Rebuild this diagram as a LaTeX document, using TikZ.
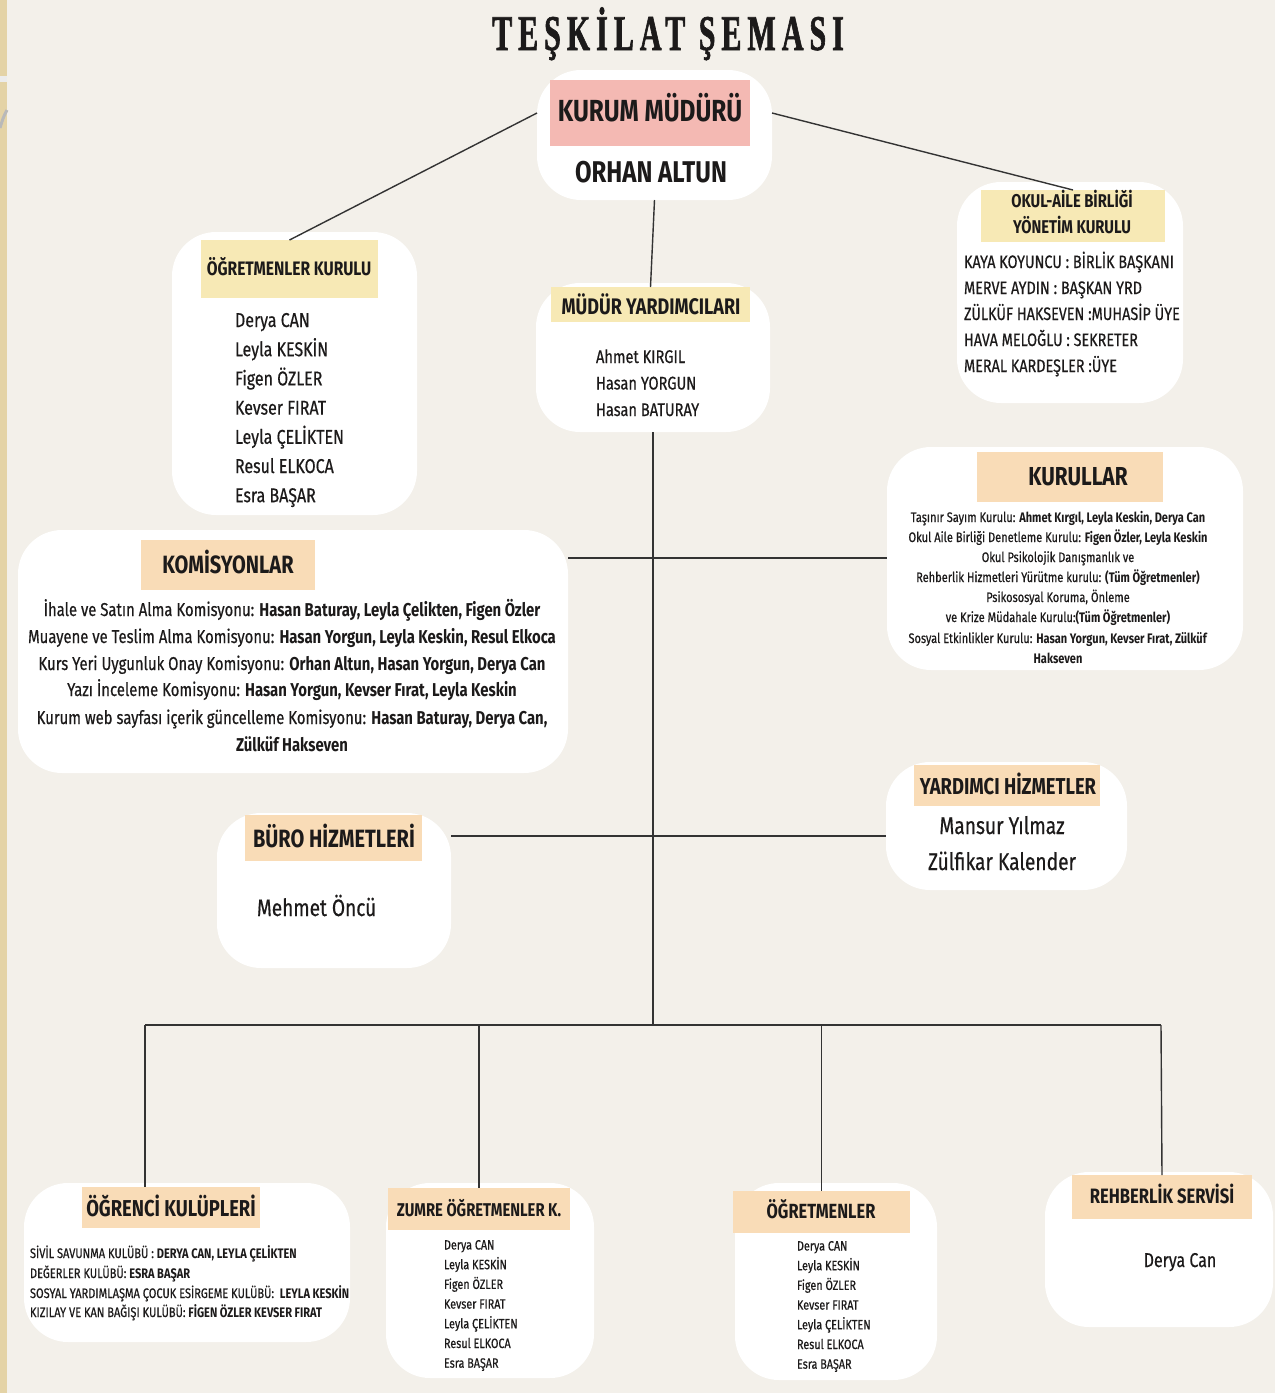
\documentclass[tikz,border=0pt]{standalone}
\usepackage{fontspec}
\setmainfont{Fira Sans}[FakeStretch=0.8, UprightFeatures={FakeBold=0.5}]
\newfontfamily\titlefont{Liberation Serif}[FakeStretch=0.6,LetterSpace=12,FakeBold=1.2]
\definecolor{bg}{HTML}{F3F0EA}
\definecolor{strip}{HTML}{E4D3A6}
\definecolor{hdyellow}{HTML}{F7E9B5}
\definecolor{hdpeach}{HTML}{F9DCB7}
\definecolor{hdpink}{HTML}{F4B9B3}
\definecolor{ink}{HTML}{1C1A1A}
\definecolor{lin}{HTML}{333333}
\newcommand\fsz[1]{\fontsize{#1}{#1}\selectfont}
\newcommand\bx[6]{\node[#2, minimum width={(#5-#3)*1pt}, minimum height={(#6-#4)*1pt}] (#1) at ({(#3+#5)/2},{(#4+#6)/2}) {};}
\tikzset{
  wb/.style={fill=white, rounded corners=44pt, inner sep=0pt, outer sep=0pt},
  hy/.style={fill=hdyellow, inner sep=0pt, outer sep=0pt},
  hp/.style={fill=hdpeach, inner sep=0pt, outer sep=0pt},
  hk/.style={fill=hdpink, inner sep=0pt, outer sep=0pt},
  tx/.style={inner sep=0pt, outer sep=0pt, anchor=base, text=ink},
  txl/.style={tx, anchor=base west},
  conn/.style={draw=lin, line width=1.4pt},
}
\begin{document}
\begin{tikzpicture}[x=1pt,y=-1pt]
\useasboundingbox (0,0) rectangle (1275,1393);
\fill[bg] (0,0) rectangle (1275,1393);
\fill[strip] (0,0) rectangle (7,1393);
\fill[white!85!gray] (0,76) rectangle (7,82);
\draw[gray!55, line width=3pt] (0,128) .. controls (3,118) .. (7,110);

% ---------- boxes ----------
\bx{km}{wb}{537}{70}{772}{200}
\bx{okk}{wb}{172}{232}{417}{515}
\bx{my}{wb}{536}{283}{770}{432}
\bx{oa}{wb}{957}{182}{1183}{403}
\bx{kur}{wb}{887}{447}{1243}{670}
\bx{kom}{wb}{18}{530}{568}{773}
\bx{buro}{wb}{217}{813}{451}{968}
\bx{yrd}{wb}{886}{762}{1127}{890}
\bx{ogc}{wb}{24}{1183}{350}{1342}
\bx{zum}{wb}{386}{1183}{594}{1378}
\bx{ogt}{wb}{735}{1183}{937}{1380}
\bx{reh}{wb}{1045}{1172}{1273}{1327}

% ---------- headers ----------
\bx{kmh}{hk}{550}{80}{750}{146}
\bx{okh}{hy}{201}{240}{378}{298}
\bx{myh}{hy}{551}{287}{750}{322}
\bx{oah}{hy}{981}{190}{1165}{242}
\bx{kurh}{hp}{977}{452}{1163}{502}
\bx{komh}{hp}{141}{540}{315}{590}
\bx{buroh}{hp}{245}{815}{422}{861}
\bx{yrdh}{hp}{914}{765}{1100}{806}
\bx{ogch}{hp}{82}{1187}{260}{1228}
\bx{zumh}{hp}{388}{1188}{570}{1230}
\bx{ogth}{hp}{733}{1191}{910}{1233}
\bx{rehh}{hp}{1072}{1175}{1252}{1219}

% ---------- connectors ----------
\coordinate (h1) at (653,558);
\coordinate (h2) at (653,836);
\coordinate (j) at (653,1025);
\coordinate (b1) at (145,1025);
\coordinate (b4) at (1161,1025);
\draw[conn] (km.west |- kmh) -- (okh.north);
\draw[conn] (km.east |- kmh) -- (oah.north);
\draw[conn] (km.south) -- (myh.north);
\draw[conn] (my.south) -- (j);
\draw[conn] (kom.east |- h1) -- (kur.west |- h1);
\draw[conn] (buro.east |- h2) -- (yrd.west |- h2);
\draw[conn] (b1) -- (b4);
\draw[conn] (b1) -- (b1 |- ogch.north);
\draw[conn] (zumh.north |- j) -- (zumh.north);
\draw[conn] (ogth.north |- j) -- (ogth.north);
\draw[conn] (b4) -- (rehh.north);

% ---------- title ----------
\node[tx, font=\titlefont\bfseries\fsz{50}] (title) at (668,50) {TEŞKİLAT ŞEMASI};

% ---------- kurum müdürü ----------
\node[tx, font=\bfseries\fsz{30.5}] (kmt) at (650,121) {KURUM MÜDÜRÜ};
\node[tx, font=\bfseries\fsz{30}] (kmn) at (651,182) {ORHAN ALTUN};

% ---------- öğretmenler kurulu ----------
\node[tx, font=\bfseries\fsz{19.5}] (okt) at (289,275) {ÖĞRETMENLER KURULU};
\foreach \t [count=\i from 0] in {Derya CAN, Leyla KESKİN, Figen ÖZLER, Kevser FIRAT, Leyla ÇELİKTEN, Resul ELKOCA, Esra BAŞAR}
  \node[txl, font=\fsz{20}] (okn\i) at (235,{327+29.2*\i}) {\t};

% ---------- müdür yardımcıları ----------
\node[tx, font=\bfseries\fsz{22.5}] (myt) at (651,314) {MÜDÜR YARDIMCILARI};
\foreach \t [count=\i from 0] in {Ahmet KIRGIL, Hasan YORGUN, Hasan BATURAY}
  \node[txl, font=\fsz{18.3}] (myn\i) at (596,{363+26.5*\i}) {\t};

% ---------- okul-aile ----------
\node[tx, font=\bfseries\fsz{18.5}] (oat1) at (1072,207) {OKUL-AİLE BİRLİĞİ};
\node[tx, font=\bfseries\fsz{18.5}] (oat2) at (1072,233) {YÖNETİM KURULU};
\foreach \t [count=\i from 0] in {KAYA KOYUNCU : BİRLİK BAŞKANI, MERVE AYDIN : BAŞKAN YRD, ZÜLKÜF HAKSEVEN :MUHASİP ÜYE, HAVA MELOĞLU : SEKRETER, MERAL KARDEŞLER :ÜYE}
  \node[txl, font=\fsz{18}] (oan\i) at (964,{268+26*\i}) {\t};

% ---------- kurullar ----------
\node[tx, font=\bfseries\fsz{26}] (kurt) at (1078,485) {KURULLAR};
\node[tx, font=\fsz{13.8}] (kur1) at (1058,522) {Taşınır Sayım Kurulu: \textbf{Ahmet Kırgıl, Leyla Keskin, Derya Can}};
\node[tx, font=\fsz{13.8}] (kur2) at (1058,542) {Okul Aile Birliği Denetleme Kurulu: \textbf{Figen Özler, Leyla Keskin}};
\node[tx, font=\fsz{13.8}] (kur3) at (1058,562) {Okul Psikolojik Danışmanlık ve};
\node[tx, font=\fsz{13.8}] (kur4) at (1058,582) {Rehberlik Hizmetleri Yürütme kurulu: \textbf{(Tüm Öğretmenler)}};
\node[tx, font=\fsz{13.8}] (kur5) at (1058,602) {Psikososyal Koruma, Önleme};
\node[tx, font=\fsz{13.8}] (kur6) at (1058,622) {ve Krize Müdahale Kurulu:\textbf{(Tüm Öğretmenler)}};
\node[tx, font=\fsz{13.8}] (kur7) at (1058,643) {Sosyal Etkinlikler Kurulu: \textbf{Hasan Yorgun, Kevser Fırat, Zülküf}};
\node[tx, font=\fsz{13.8}] (kur8) at (1058,663) {\textbf{Hakseven}};

% ---------- komisyonlar ----------
\node[tx, font=\bfseries\fsz{25}] (komt) at (228,573) {KOMİSYONLAR};
\node[tx, font=\fsz{18.6}] (kom1) at (292,616) {İhale ve Satın Alma Komisyonu: \textbf{Hasan Baturay, Leyla Çelikten, Figen Özler}};
\node[tx, font=\fsz{18.6}] (kom2) at (292,643) {Muayene ve Teslim Alma Komisyonu: \textbf{Hasan Yorgun, Leyla Keskin, Resul Elkoca}};
\node[tx, font=\fsz{18.6}] (kom3) at (292,670) {Kurs Yeri Uygunluk Onay Komisyonu: \textbf{Orhan Altun, Hasan Yorgun, Derya Can}};
\node[tx, font=\fsz{18.6}] (kom4) at (292,696) {Yazı İnceleme Komisyonu: \textbf{Hasan Yorgun, Kevser Fırat, Leyla Keskin}};
\node[tx, font=\fsz{18.6}] (kom5) at (292,724) {Kurum web sayfası içerik güncelleme Komisyonu: \textbf{Hasan Baturay, Derya Can,}};
\node[tx, font=\fsz{18.6}] (kom6) at (292,751) {\textbf{Zülküf Hakseven}};

% ---------- büro / yardımcı ----------
\node[tx, font=\bfseries\fsz{25}] (burot) at (334,847) {BÜRO HİZMETLERİ};
\node[txl, font=\fsz{23.8}] (buron) at (257,916) {Mehmet Öncü};
\node[tx, font=\bfseries\fsz{23}] (yrdt) at (1008,794) {YARDIMCI HİZMETLER};
\node[tx, font=\fsz{24}] (yrdn1) at (1002,834) {Mansur Yılmaz};
\node[tx, font=\fsz{24}] (yrdn2) at (1002,870) {Zülfikar Kalender};

% ---------- öğrenci kulüpleri ----------
\node[tx, font=\bfseries\fsz{23}] (ogct) at (171,1216) {ÖĞRENCİ KULÜPLERİ};
\node[txl, font=\fsz{13.8}] (ogc1) at (30,1258) {SİVİL SAVUNMA KULÜBÜ : \textbf{DERYA CAN, LEYLA ÇELİKTEN}};
\node[txl, font=\fsz{13.8}] (ogc2) at (30,1278) {DEĞERLER KULÜBÜ: \textbf{ESRA BAŞAR}};
\node[txl, font=\fsz{13.8}] (ogc3) at (30,1298) {SOSYAL YARDIMLAŞMA ÇOCUK ESİRGEME KULÜBÜ:\ \ \textbf{LEYLA KESKİN}};
\node[txl, font=\fsz{13.8}] (ogc4) at (30,1317) {KIZILAY VE KAN BAĞIŞI KULÜBÜ: \textbf{FİGEN ÖZLER KEVSER FIRAT}};

% ---------- zümre / öğretmenler ----------
\node[tx, font=\bfseries\fsz{18.5}] (zumt) at (479,1216) {ZUMRE ÖĞRETMENLER K.};
\foreach \t [count=\i from 0] in {Derya CAN, Leyla KESKİN, Figen ÖZLER, Kevser FIRAT, Leyla ÇELİKTEN, Resul ELKOCA, Esra BAŞAR}
  \node[txl, font=\fsz{13.5}] (zumn\i) at (444,{1249.5+19.7*\i}) {\t};
\node[tx, font=\bfseries\fsz{20.5}] (ogtt) at (821,1218) {ÖĞRETMENLER};
\foreach \t [count=\i from 0] in {Derya CAN, Leyla KESKİN, Figen ÖZLER, Kevser FIRAT, Leyla ÇELİKTEN, Resul ELKOCA, Esra BAŞAR}
  \node[txl, font=\fsz{13.5}] (ogtn\i) at (797,{1250.5+19.7*\i}) {\t};

% ---------- rehberlik ----------
\node[tx, font=\bfseries\fsz{20.8}] (reht) at (1162,1203) {REHBERLİK SERVİSİ};
\node[tx, font=\fsz{20}] (rehn) at (1180,1267) {Derya Can};
\end{tikzpicture}
\end{document}
